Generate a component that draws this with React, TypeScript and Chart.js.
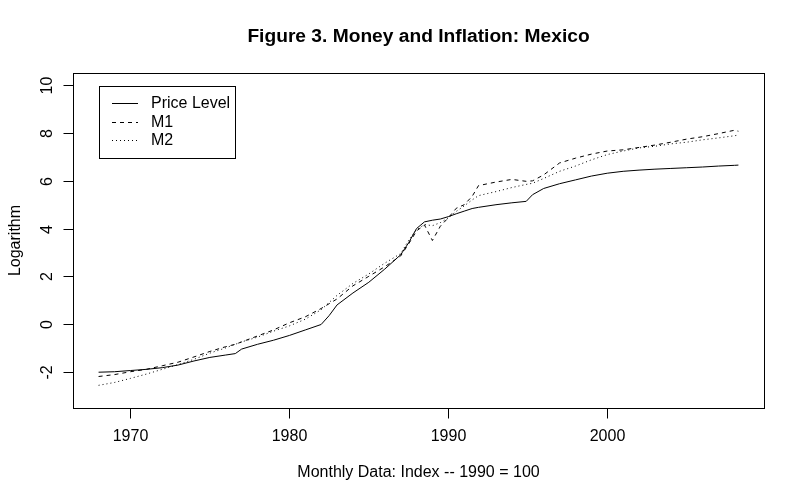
import React, { useEffect, useRef } from "react";
import { Chart, registerables } from "chart.js";

Chart.register(...registerables);

const years = [
  1968, 1969, 1970, 1971, 1972, 1973, 1974, 1975, 1976, 1976.6, 1977, 1978, 1979, 1980, 1981, 1982,
  1982.5, 1983, 1984, 1985, 1986, 1987, 1987.5, 1988, 1988.5, 1989, 1989.5, 1990, 1990.5, 1991,
  1991.5, 1991.9, 1993, 1994, 1994.9, 1995.3, 1996, 1997, 1998, 1999, 2000, 2001, 2002, 2003, 2004,
  2005, 2006, 2007, 2008, 2008.25,
];

const priceLevel = [
  -2.02, -2.0, -1.95, -1.9, -1.83, -1.72, -1.55, -1.4, -1.3, -1.24, -1.05, -0.85, -0.68, -0.48, -0.25,
  -0.02, 0.35, 0.8, 1.3, 1.75, 2.3, 2.9, 3.4, 4.0, 4.28, 4.35, 4.4, 4.5, 4.62, 4.73, 4.84, 4.89, 5.0,
  5.08, 5.14, 5.42, 5.68, 5.88, 6.04, 6.2, 6.32, 6.4, 6.45, 6.49, 6.52, 6.55, 6.58, 6.62, 6.65, 6.66,
];

const m1 = [
  -2.2, -2.12, -2.0, -1.9, -1.75, -1.6, -1.38, -1.15, -0.95, -0.85, -0.75, -0.5, -0.25, 0.05, 0.3,
  0.65, 0.85, 1.05, 1.6, 2.0, 2.4, 2.85, 3.35, 3.9, 4.15, 3.5, 4.1, 4.45, 4.85, 5.0, 5.35, 5.8, 5.95,
  6.06, 5.98, 6.0, 6.25, 6.75, 6.95, 7.12, 7.25, 7.3, 7.4, 7.5, 7.62, 7.75, 7.85, 7.98, 8.12, 8.08,
];

const m2 = [
  -2.57, -2.45, -2.28, -2.1, -1.9, -1.7, -1.48, -1.22, -1.0, -0.85, -0.75, -0.55, -0.3, -0.08, 0.2,
  0.6, 0.9, 1.2, 1.7, 2.1, 2.55, 2.95, 3.5, 3.95, 4.17, 4.12, 4.25, 4.45, 4.72, 4.95, 5.2, 5.38, 5.55,
  5.72, 5.85, 5.9, 6.1, 6.4, 6.62, 6.88, 7.1, 7.25, 7.38, 7.45, 7.55, 7.62, 7.72, 7.8, 7.89, 7.92,
];

const seriesNames = ["Price Level", "M1", "M2"];
const seriesDashes = [[], [4, 4], [1, 3]];
const xTicks = [1970, 1980, 1990, 2000];
const yTicks = [-2, 0, 2, 4, 6, 8, 10];
const titleText = "Figure 3. Money and Inflation: Mexico";
const xTitle = "Monthly Data: Index -- 1990 = 100";
const yTitle = "Logarithm";

const FONT = '"Liberation Sans", Arial, sans-serif';

const rStylePlugin = {
  id: "rStyle",
  afterDraw(chart: any) {
    const ctx = chart.ctx as CanvasRenderingContext2D;
    const ca = chart.chartArea;
    const xs = chart.scales.x;
    const ys = chart.scales.y;
    ctx.save();
    ctx.strokeStyle = "#000";
    ctx.fillStyle = "#000";
    ctx.lineWidth = 1;
    ctx.setLineDash([]);

    // box
    ctx.strokeRect(ca.left + 0.5, ca.top + 0.5, ca.right - ca.left, ca.bottom - ca.top);

    // x ticks
    ctx.font = `16px ${FONT}`;
    ctx.textAlign = "center";
    ctx.textBaseline = "middle";
    for (const t of xTicks) {
      const px = Math.round(xs.getPixelForValue(t)) + 0.5;
      ctx.beginPath();
      ctx.moveTo(px, ca.bottom + 0.5);
      ctx.lineTo(px, ca.bottom + 10.5);
      ctx.stroke();
      ctx.fillText(String(t), px, ca.bottom + 29);
    }

    // y ticks
    for (const t of yTicks) {
      const py = Math.round(ys.getPixelForValue(t)) + 0.5;
      ctx.beginPath();
      ctx.moveTo(ca.left + 0.5, py);
      ctx.lineTo(ca.left - 9.5, py);
      ctx.stroke();
      ctx.save();
      ctx.translate(ca.left - 25, py);
      ctx.rotate(-Math.PI / 2);
      ctx.fillText(String(t), 0, 0);
      ctx.restore();
    }

    const cx = (ca.left + ca.right) / 2;
    const cy = (ca.top + ca.bottom) / 2;

    // axis titles
    ctx.fillText(xTitle, cx, ca.bottom + 65);
    ctx.save();
    ctx.translate(16, cy);
    ctx.rotate(-Math.PI / 2);
    ctx.fillText(yTitle, 0, 0);
    ctx.restore();

    // main title
    ctx.font = `bold 19.2px ${FONT}`;
    ctx.fillText(titleText, cx, 37);

    // legend
    const lx = ca.left + 26;
    const ly = ca.top + 13;
    const lw = 136;
    const lh = 72;
    ctx.strokeRect(lx + 0.5, ly + 0.5, lw, lh);
    ctx.font = `16px ${FONT}`;
    ctx.textAlign = "left";
    seriesNames.forEach((name, i) => {
      const yy = Math.round(ly + 17 + i * 18.5) + 0.5;
      ctx.setLineDash(seriesDashes[i]);
      ctx.beginPath();
      ctx.moveTo(lx + 13, yy);
      ctx.lineTo(lx + 39, yy);
      ctx.stroke();
      ctx.setLineDash([]);
      ctx.fillText(name, lx + 52, yy);
    });

    ctx.restore();
  },
};

export default function App() {
  const canvasRef = useRef<HTMLCanvasElement | null>(null);

  useEffect(() => {
    document.body.style.margin = "0";
    const canvas = canvasRef.current;
    if (!canvas) return;
    const seriesData = [priceLevel, m1, m2];
    const chart = new Chart(canvas, {
      type: "line",
      data: {
        datasets: seriesData.map((vals, i) => ({
          label: seriesNames[i],
          data: years.map((yr, j) => ({ x: yr, y: vals[j] })),
          borderColor: "#000",
          borderWidth: 1,
          borderDash: seriesDashes[i],
          pointRadius: 0,
          tension: 0,
          fill: false,
        })),
      },
      options: {
        responsive: false,
        animation: false,
        devicePixelRatio: 1,
        layout: { padding: { left: 73, right: 36, top: 73, bottom: 92 } },
        plugins: {
          legend: { display: false },
          title: { display: false },
          tooltip: { enabled: false },
        },
        scales: {
          x: {
            type: "linear",
            display: false,
            min: 1966.39,
            max: 2009.86,
          },
          y: {
            type: "linear",
            display: false,
            min: -3.52,
            max: 10.52,
          },
        },
      },
      plugins: [rStylePlugin],
    });
    return () => chart.destroy();
  }, []);

  return (
    <div style={{ position: "absolute", left: 0, top: 0, width: 800, height: 500, background: "#fff" }}>
      <canvas ref={canvasRef} width={800} height={500} style={{ display: "block" }} />
    </div>
  );
}
